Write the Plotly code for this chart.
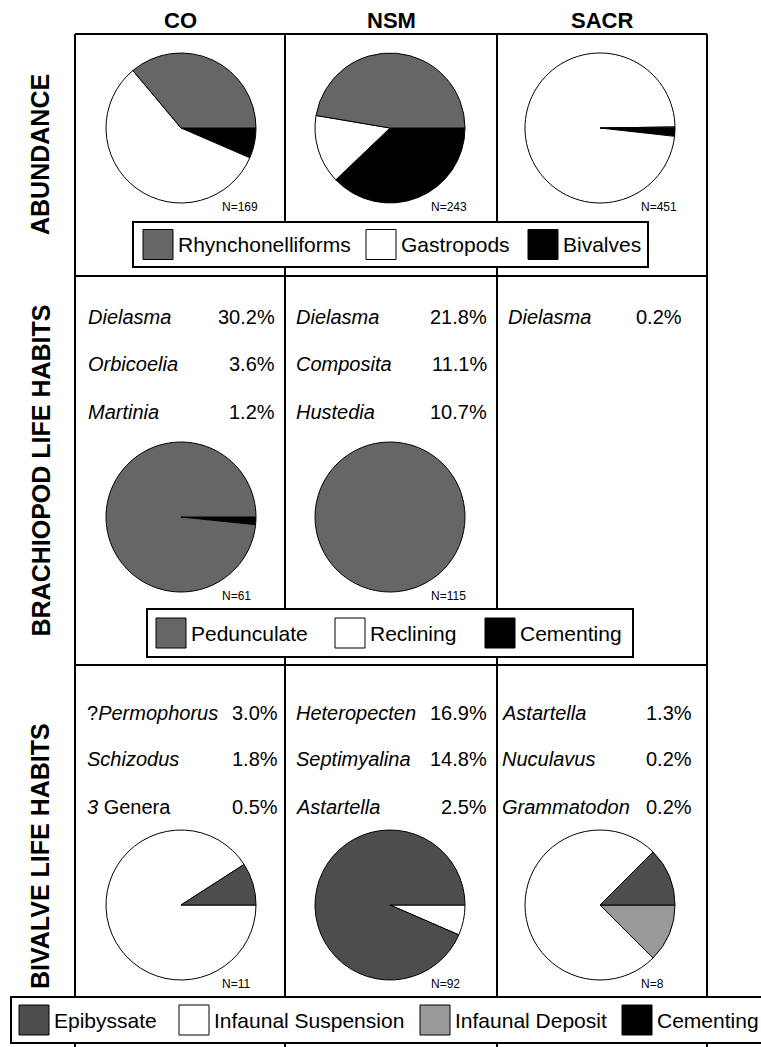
import plotly.graph_objects as go

# ---------------- DATA ----------------
sites = ["CO", "NSM", "SACR"]
row_titles = ["ABUNDANCE", "BRACHIOPOD LIFE HABITS", "BIVALVE LIFE HABITS"]

abund_labels = ["Rhynchonelliforms", "Gastropods", "Bivalves"]
abund_CO = [61, 97, 11]
abund_NSM = [115, 36, 92]
abund_SACR = [1, 442, 8]

brach_labels = ["Pedunculate", "Reclining", "Cementing"]
brach_CO = [60, 0, 1]
brach_NSM = [115, 0, 0]
brach_SACR = None  # no pie drawn

biv_labels = ["Epibyssate", "Infaunal Suspension", "Infaunal Deposit", "Cementing"]
biv_CO = [1, 10, 0, 0]
biv_NSM = [86, 6, 0, 0]
biv_SACR = [1, 6, 1, 0]

brach_genera_CO = ["<i>Dielasma</i>", "<i>Orbicoelia</i>", "<i>Martinia</i>"]
brach_pct_CO = [30.2, 3.6, 1.2]
brach_genera_NSM = ["<i>Dielasma</i>", "<i>Composita</i>", "<i>Hustedia</i>"]
brach_pct_NSM = [21.8, 11.1, 10.7]
brach_genera_SACR = ["<i>Dielasma</i>"]
brach_pct_SACR = [0.2]

biv_genera_CO = ["?<i>Permophorus</i>", "<i>Schizodus</i>", "<i>3</i> Genera"]
biv_pct_CO = [3.0, 1.8, 0.5]
biv_genera_NSM = ["<i>Heteropecten</i>", "<i>Septimyalina</i>", "<i>Astartella</i>"]
biv_pct_NSM = [16.9, 14.8, 2.5]
biv_genera_SACR = ["<i>Astartella</i>", "<i>Nuculavus</i>", "<i>Grammatodon</i>"]
biv_pct_SACR = [1.3, 0.2, 0.2]

# ---------------- STYLE / LAYOUT ----------------
abund_colors = ["#666666", "#ffffff", "#000000"]
brach_colors = ["#666666", "#ffffff", "#000000"]
biv_colors = ["#4d4d4d", "#ffffff", "#999999", "#000000"]

W, H = 761, 1047
FONT = "Liberation Sans, Arial, Helvetica, sans-serif"

col_lines = [75, 285, 497, 707]
row_lines = [34, 276, 665, 1047]
pie_cx = [181, 390, 600]
pie_cy = [128, 517, 905]
R = 75

brach_text_y = [317, 364, 412]
biv_text_y = [713, 759, 807]
brach_name_x = [86, 294, 506]
brach_pct_x = [277, 489, 684]
biv_name_x = [85, 294, 500]
biv_pct_x = [280, 489, 694]

legend_specs = [
    dict(box=(133, 648, 222, 267), sw=[143, 366, 528], labels=abund_labels, colors=abund_colors),
    dict(box=(147, 633, 609, 657), sw=[156, 335, 485], labels=brach_labels, colors=brach_colors),
    dict(box=(11, 780, 997, 1043), sw=[19, 179, 420, 622], labels=biv_labels, colors=biv_colors),
]
SW = 30


def px(x):
    return x / W


def py(y):
    return 1 - y / H


fig = go.Figure()

rows = [
    (abund_labels, abund_colors, [abund_CO, abund_NSM, abund_SACR]),
    (brach_labels, brach_colors, [brach_CO, brach_NSM, brach_SACR]),
    (biv_labels, biv_colors, [biv_CO, biv_NSM, biv_SACR]),
]

annotations = []
shapes = []

for ri, (labels, colors, vals_list) in enumerate(rows):
    cy = pie_cy[ri]
    for ci, vals in enumerate(vals_list):
        if vals is None:
            continue
        cx = pie_cx[ci]
        # keep non-zero slices; reverse so that drawing clockwise from 3 o'clock
        # gives the first category counter-clockwise from 3 o'clock
        kept = [(l, v, c) for l, v, c in zip(labels, vals, colors) if v > 0][::-1]
        fig.add_trace(go.Pie(
            labels=[k[0] for k in kept], values=[k[1] for k in kept], sort=False,
            direction="clockwise", rotation=90,
            marker=dict(colors=[k[2] for k in kept], line=dict(color="black", width=1)),
            textinfo="none", hoverinfo="skip", showlegend=False,
            domain=dict(x=[px(cx - R), px(cx + R)], y=[py(cy + R), py(cy - R)]),
        ))
        annotations.append(dict(
            x=px(cx + 39), y=py(cy + 79), xref="paper", yref="paper",
            text=f"N={sum(vals)}", showarrow=False, xanchor="left", yanchor="middle",
            font=dict(family=FONT, size=12, color="black"),
        ))

# frame lines
for x in col_lines:
    shapes.append(dict(type="line", xref="paper", yref="paper",
                       x0=px(x), x1=px(x), y0=py(row_lines[0]), y1=py(row_lines[-1] + 5),
                       line=dict(color="black", width=2)))
for y in row_lines[:-1]:
    shapes.append(dict(type="line", xref="paper", yref="paper",
                       x0=px(col_lines[0]), x1=px(col_lines[-1]), y0=py(y), y1=py(y),
                       line=dict(color="black", width=2)))

# headers
for ci, s in enumerate(sites):
    annotations.append(dict(
        x=px((col_lines[ci] + col_lines[ci + 1]) / 2), y=py(20), xref="paper", yref="paper",
        text=f"<b>{s}</b>", showarrow=False, xanchor="center", yanchor="middle",
        font=dict(family=FONT, size=22, color="black"),
    ))

# row titles
for ri, t in enumerate(row_titles):
    annotations.append(dict(
        x=px(40), y=py((row_lines[ri] + row_lines[ri + 1]) / 2), xref="paper", yref="paper",
        text=f"<b>{t}</b>", showarrow=False, textangle=-90, xanchor="center", yanchor="middle",
        font=dict(family=FONT, size=25, color="black"),
    ))

# genus text tables
tables = [
    (brach_text_y, brach_name_x, brach_pct_x,
     [(brach_genera_CO, brach_pct_CO), (brach_genera_NSM, brach_pct_NSM), (brach_genera_SACR, brach_pct_SACR)]),
    (biv_text_y, biv_name_x, biv_pct_x,
     [(biv_genera_CO, biv_pct_CO), (biv_genera_NSM, biv_pct_NSM), (biv_genera_SACR, biv_pct_SACR)]),
]
for ty, nx, pxr, cols in tables:
    for ci, (names, pcts) in enumerate(cols):
        for k, (n, p) in enumerate(zip(names, pcts)):
            annotations.append(dict(
                x=px(nx[ci]), y=py(ty[k]), xref="paper", yref="paper", text=n,
                showarrow=False, xanchor="left", yanchor="middle",
                font=dict(family=FONT, size=20, color="black"),
            ))
            annotations.append(dict(
                x=px(pxr[ci]), y=py(ty[k]), xref="paper", yref="paper", text=f"{p:.1f}%",
                showarrow=False, xanchor="right", yanchor="middle",
                font=dict(family=FONT, size=20, color="black"),
            ))

# legends
for spec in legend_specs:
    x0, x1, y0, y1 = spec["box"]
    shapes.append(dict(type="rect", xref="paper", yref="paper",
                       x0=px(x0), x1=px(x1), y0=py(y1), y1=py(y0),
                       fillcolor="white", line=dict(color="black", width=2)))
    yc = (y0 + y1) / 2
    for sx, lab, col in zip(spec["sw"], spec["labels"], spec["colors"]):
        shapes.append(dict(type="rect", xref="paper", yref="paper",
                           x0=px(sx), x1=px(sx + SW), y0=py(yc + SW / 2), y1=py(yc - SW / 2),
                           fillcolor=col, line=dict(color="black", width=1)))
        annotations.append(dict(
            x=px(sx + SW + 3), y=py(yc), xref="paper", yref="paper", text=lab,
            showarrow=False, xanchor="left", yanchor="middle",
            font=dict(family=FONT, size=21, color="black"),
        ))

fig.update_layout(
    width=W, height=H, margin=dict(l=0, r=0, t=0, b=0),
    paper_bgcolor="white", plot_bgcolor="white",
    shapes=shapes, annotations=annotations, showlegend=False,
)

fig.write_html(
    "out.html",
    config={"displayModeBar": False, "staticPlot": True},
    post_script="document.body.style.margin='0';document.body.style.overflow='hidden';",
)
